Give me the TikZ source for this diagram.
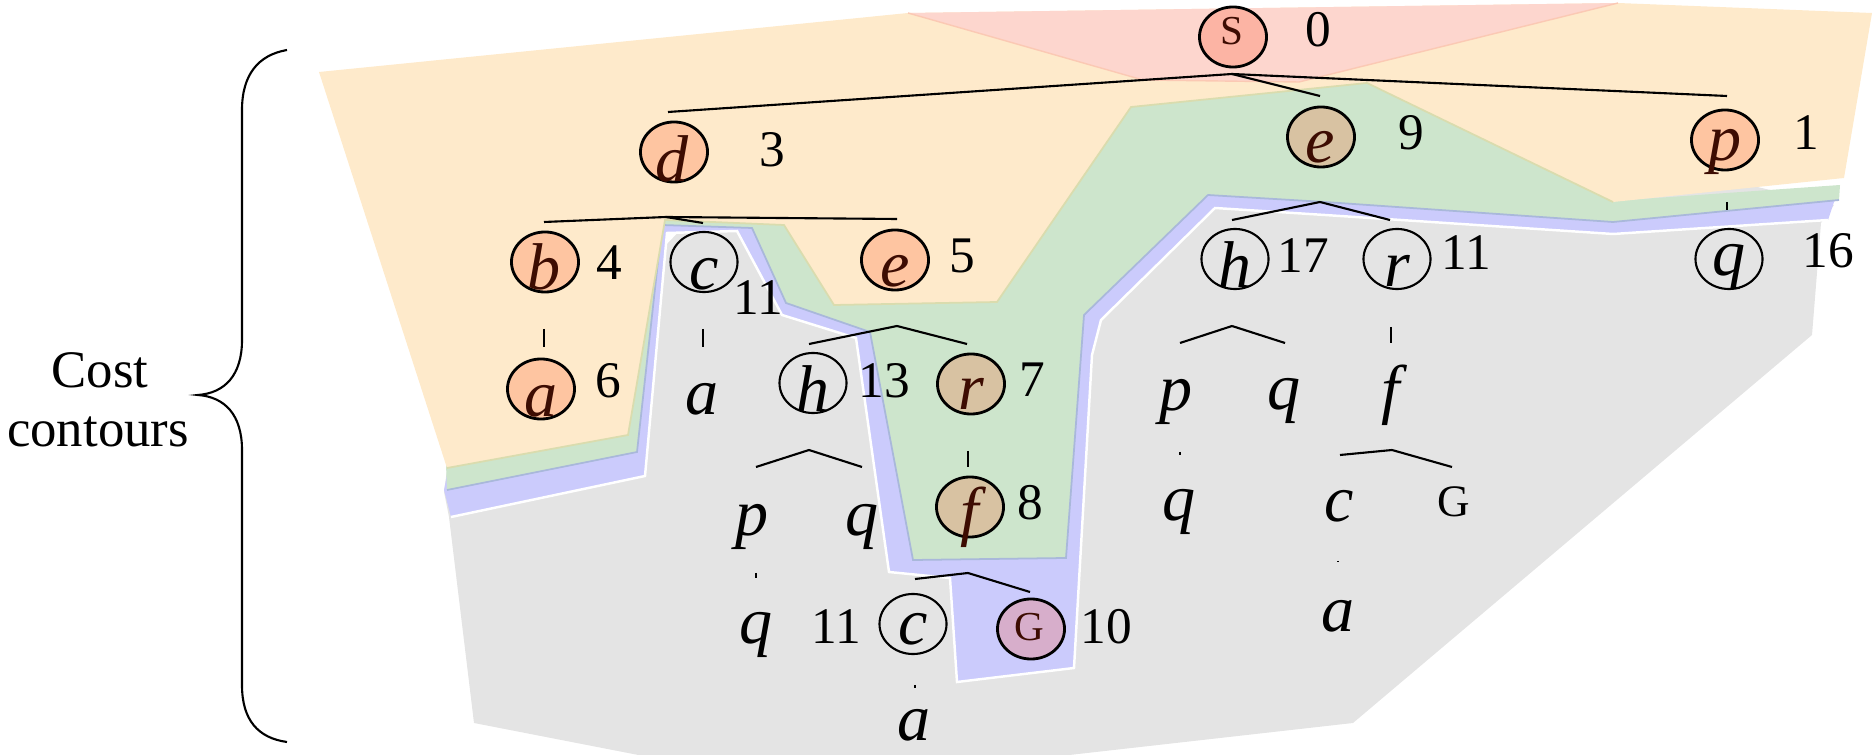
\documentclass[tikz,border=0pt]{standalone}
\usepackage{fontspec}
\setmainfont{Liberation Serif}
\usetikzlibrary{shapes.geometric,calc}
\definecolor{cpink}{HTML}{FDD6CE}
\definecolor{corange}{HTML}{FEEACB}
\definecolor{cgreen}{HTML}{CDE5CC}
\definecolor{cblue}{HTML}{CBCBFC}
\definecolor{cgray}{HTML}{E4E4E4}
\definecolor{npeach}{HTML}{FEC5A1}
\definecolor{nsalmon}{HTML}{FCB4A4}
\definecolor{ntan}{HTML}{D8C2A2}
\definecolor{nmauve}{HTML}{D7AECB}
\definecolor{ink}{HTML}{3D0C02}
\definecolor{oliveedge}{HTML}{DADCAE}
\definecolor{blueedge}{HTML}{A9B8DA}
\definecolor{pinkedge}{HTML}{FBC9B4}
\begin{document}
\begin{tikzpicture}[x=0.01cm,y=-0.01cm,
  nd/.style={ellipse,draw,line width=0.8pt,minimum width=0.67cm,minimum height=0.60cm,inner sep=0pt},
  ndo/.style={ellipse,draw,line width=0.6pt,minimum width=0.67cm,minimum height=0.60cm,inner sep=0pt},
  lt/.style={anchor=base,inner sep=0pt,font=\fontsize{18.8}{20}\selectfont\itshape},
  ltc/.style={lt,text=ink},
  up/.style={anchor=base,inner sep=0pt,font=\fontsize{11.7}{13}\selectfont},
  num/.style={anchor=base,inner sep=0pt,font=\fontsize{14.6}{16}\selectfont},
  tl/.style={line width=0.6pt},
]
\useasboundingbox (0,0) rectangle (1875,755);
\begin{scope}
\clip (0,0) rectangle (1875,755);
% gray region
\fill[cgray] (449,517) -- (474,723) -- (664,760) -- (1025,760) -- (1353,723) -- (1812,335) -- (1821,223) -- (1834,205) -- (1600,150) -- (1000,200) -- (700,210) -- (447,470) -- (444,492) -- cycle;
% blue region
\fill[cblue] (451,517) -- (645,476) -- (667,233) -- (737,231) -- (782,315) -- (856,338) -- (889,572) -- (950,578) -- (957,682) -- (1074,668) -- (1092,355) -- (1101,320) -- (1215,208) -- (1325,215) -- (1613,234) -- (1828,220) -- (1834,202) -- (1838,195) -- (1613,212) -- (1367,92) -- (1131,110) -- (1000,305) -- (830,305) -- (782,226) -- (662,222) -- (632,440) -- (447,475) -- (444,490) -- cycle;
\draw[white,line width=0.7pt] (451,517) -- (645,476) -- (667,233) -- (737,231) -- (782,315) -- (856,338) -- (889,572) -- (950,578) -- (957,682) -- (1074,668) -- (1092,355) -- (1101,320) -- (1215,208) -- (1325,215) -- (1613,234) -- (1828,220);
% green region
\fill[cgreen] (447,490) -- (637,452) -- (662,225) -- (752,228) -- (786,303) -- (870,332) -- (913,560) -- (1066,558) -- (1084,315) -- (1208,195) -- (1325,202) -- (1613,222) -- (1839,200) -- (1840,185) -- (1613,201) -- (1365,78) -- (1131,104) -- (995,300) -- (830,300) -- (782,222) -- (660,218) -- (622,432) -- (446,464) -- cycle;
\draw[blueedge,line width=0.5pt] (447,490) -- (637,452) -- (662,225) -- (752,228) -- (786,303) -- (870,332) -- (913,560) -- (1066,558) -- (1084,315) -- (1208,195) -- (1325,202) -- (1613,222) -- (1839,200);
% orange region
\fill[corange] (319,72) -- (908,13) -- (1618,3) -- (1872,13) -- (1844,178) -- (1613,202) -- (1367,83) -- (1131,107) -- (997,302) -- (834,305) -- (784,225) -- (665,220) -- (628,435) -- (447,468) -- cycle;
\draw[oliveedge,line width=0.5pt] (1613,202) -- (1367,83) -- (1131,107) -- (997,302) -- (834,305) -- (784,225) -- (665,220) -- (628,435) -- (447,468);
% pink region
\fill[cpink] (908,13) -- (1143,80) -- (1299,82) -- (1618,3) -- cycle;
\draw[pinkedge,line width=0.4pt] (908,13) -- (1143,80) -- (1299,82) -- (1618,3);
\end{scope}

% brace and label
\draw[line width=0.6pt] (287,50) .. controls (258,55) and (242,75) .. (242,110) -- (242,340) .. controls (242,375) and (225,393) .. (198,395) .. controls (225,397) and (242,415) .. (242,450) -- (242,685) .. controls (242,720) and (258,738) .. (287,742);
\node[anchor=base,inner sep=0pt,font=\fontsize{15}{17}\selectfont] (cost) at (100,388) {Cost};
\node[anchor=base,inner sep=0pt,font=\fontsize{15}{17}\selectfont] (contours) at (98,447) {contours};

% level 0
\node[nd,fill=nsalmon] (S) at (1233,37) {};
\node[up,text=ink] (S-t) at (1232,45) {S};
\node[num] (S-n) at (1318,47) {0};
% level 1
\node[nd,fill=npeach] (d) at (674,152) {};
\node[ltc] (d-t) at (672,182) {d};
\node[num] (d-n) at (772,167) {3};
\node[nd,fill=ntan] (e9) at (1321,137) {};
\node[ltc] (e9-t) at (1320,163) {e};
\node[num] (e9-n) at (1411,150) {9};
\node[nd,fill=npeach] (p1) at (1725,140) {};
\node[ltc] (p1-t) at (1725,161) {p};
\node[num] (p1-n) at (1806,150) {1};
% level 2
\node[nd,fill=npeach] (b) at (545,262) {};
\node[ltc] (b-t) at (544,290) {b};
\node[num] (b-n) at (609,280) {4};
\node[ndo] (c11) at (704,262) {};
\node[lt] (c11-t) at (704,290) {c};
\node[num] (c11-n) at (758,315) {11};
\node[nd,fill=npeach] (e5) at (895,260) {};
\node[ltc] (e5-t) at (895,287) {e};
\node[num] (e5-n) at (962,273) {5};
\node[ndo] (h17) at (1235,259) {};
\node[lt] (h17-t) at (1235,288) {h};
\node[num] (h17-n) at (1303,273) {17};
\node[ndo] (r11) at (1397,259) {};
\node[lt] (r11-t) at (1397,287) {r};
\node[num] (r11-n) at (1466,270) {11};
\node[ndo] (q16) at (1729,259) {};
\node[lt] (q16-t) at (1729,276) {q};
\node[num] (q16-n) at (1828,268) {16};
% level 3
\node[nd,fill=npeach] (a6) at (541,389) {};
\node[ltc] (a6-t) at (541,417) {a};
\node[num] (a6-n) at (608,398) {6};
\node[lt] (ca) at (702,415) {a};
\node[ndo] (h13) at (813,383) {};
\node[lt] (h13-t) at (813,412) {h};
\node[num] (h13-n) at (884,398) {13};
\node[nd,fill=ntan] (r7) at (971,384) {};
\node[ltc] (r7-t) at (971,410) {r};
\node[num] (r7-n) at (1032,397) {7};
\node[lt] (ep) at (1176,411) {p};
\node[lt] (eq) at (1284,410) {q};
\node[lt] (rf) at (1391,412) {f};
% level 4
\node[lt] (hp) at (752,536) {p};
\node[lt] (hq) at (862,536) {q};
\node[nd,fill=ntan] (f8) at (970,507) {};
\node[ltc] (f8-t) at (970,534) {f};
\node[num] (f8-n) at (1030,520) {8};
\node[lt] (epq) at (1179,521) {q};
\node[lt] (rfc) at (1339,522) {c};
\node[up,font=\fontsize{12.8}{14}\selectfont] (rfG) at (1454,517) {G};
% level 5
\node[lt] (hpq) at (756,644) {q};
\node[ndo] (cb) at (913,624) {};
\node[lt] (cb-t) at (913,645) {c};
\node[num] (cb-n) at (836,643) {11};
\node[nd,fill=nmauve] (G) at (1031,629) {};
\node[up,text=ink] (G-t) at (1029,640) {G};
\node[num] (G-n) at (1106,643) {10};
\node[lt] (rfca) at (1338,632) {a};
% level 6
\node[lt] (cba) at (914,740) {a};

% connectors
\draw[tl] ($(S)+(-1,37)$) -- ($(d)+(-6,-40)$);
\draw[tl] ($(S)+(-1,37)$) -- ($(e9)+(-1,-41)$);
\draw[tl] ($(S)+(-1,37)$) -- ($(p1)+(2,-44)$);
\draw[tl] ($(d)+(-8,65)$) -- ($(b)+(-1,-40)$);
\draw[tl] ($(d)+(-8,65)$) -- ($(c11)+(-1,-39)$);
\draw[tl] ($(d)+(-8,65)$) -- ($(e5)+(2,-41)$);
\draw[tl] ($(e9)+(-1,65)$) -- ($(h17)+(-3,-39)$);
\draw[tl] ($(e9)+(-1,65)$) -- ($(r11)+(-7,-39)$);
\draw[tl] ($(p1)+(2,62)$) -- ($(q16)+(-2,-49)$);
\draw[tl] ($(b)+(-1,67)$) -- ($(a6)+(3,-42)$);
\draw[tl] ($(c11)+(-1,67)$) -- ($(ca.base)+(1,-68)$);
\draw[tl] ($(e5)+(2,66)$) -- ($(h13)+(-4,-39)$);
\draw[tl] ($(e5)+(2,66)$) -- ($(r7)+(-4,-40)$);
\draw[tl] ($(h13)+(-4,67)$) -- ($(hp.base)+(4,-69)$);
\draw[tl] ($(h13)+(-4,67)$) -- ($(hq.base)+(0,-69)$);
\draw[tl] ($(r7)+(-3,67)$) -- ($(f8)+(-2,-40)$);
\draw[tl] ($(f8)+(-2,66)$) -- ($(cb)+(2,-45)$);
\draw[tl] ($(f8)+(-2,66)$) -- ($(G)+(-1,-37)$);
\draw[tl] ($(hp.base)+(4,37)$) -- ($(hpq.base)+(0,-66)$);
\draw[tl] ($(cb)+(2,61)$) -- ($(cba.base)+(1,-52)$);
\draw[tl] ($(h17)+(-3,67)$) -- ($(ep.base)+(4,-68)$);
\draw[tl] ($(h17)+(-3,67)$) -- ($(eq.base)+(1,-67)$);
\draw[tl] ($(ep.base)+(4,41)$) -- ($(epq.base)+(1,-66)$);
\draw[tl] ($(r11)+(-6,68)$) -- ($(rf.base)+(0,-69)$);
\draw[tl] ($(rf.base)+(1,38)$) -- ($(rfc.base)+(1,-67)$);
\draw[tl] ($(rf.base)+(1,38)$) -- ($(rfG.base)+(-2,-50)$);
\draw[tl] ($(rfc.base)+(-1,39)$) -- ($(rfca.base)+(0,-70)$);
\end{tikzpicture}
\end{document}
